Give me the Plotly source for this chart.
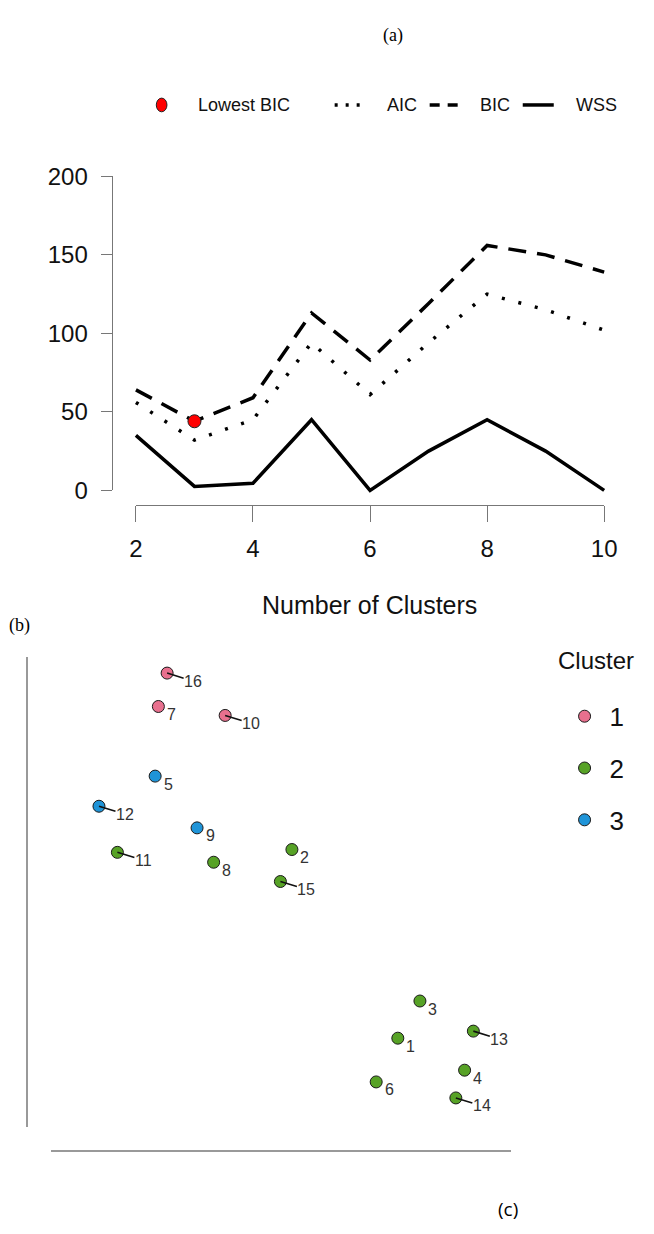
import plotly.graph_objects as go

# ---------------- data ----------------
# Panel (a): model selection criteria vs number of clusters
n_clusters = [2, 3, 4, 5, 6, 7, 8, 9, 10]
aic = [56, 32, 45, 94, 61, 94, 125, 115, 102]
bic = [64, 44, 59, 113, 83, 119, 156, 150, 139]
wss = [35, 2.5, 4.5, 45, 0, 25, 45, 25, 0]
lowest_bic_k = 3
lowest_bic_val = 44
x_ticks = [2, 4, 6, 8, 10]
y_ticks = [0, 50, 100, 150, 200]

# Panel (b): cluster map (two-dimensional embedding, arbitrary units)
point_ids = [16, 7, 10, 5, 12, 9, 11, 8, 2, 15, 3, 1, 13, 4, 6, 14]
dim1 = [25.3, 23.4, 37.9, 22.7, 10.5, 31.8, 14.5, 35.4, 52.4, 49.9, 80.2, 75.4, 91.8, 89.9, 70.7, 88.0]
dim2 = [96.5, 89.4, 87.5, 74.6, 68.2, 63.6, 58.4, 56.3, 59.0, 52.2, 26.8, 18.9, 20.4, 12.1, 9.6, 6.2]
cluster = [1, 1, 1, 3, 3, 3, 2, 2, 2, 2, 2, 2, 2, 2, 2, 2]
cluster_names = ["1", "2", "3"]
leader_ids = [16, 10, 12, 11, 15, 13, 14]  # labels drawn with a connecting segment

# ---------------- styling / layout ----------------
W, H = 654, 1234
SANS = "Liberation Sans, Arial, sans-serif"
SERIF = "Liberation Serif, Times New Roman, serif"
cluster_colors = {1: "#E8708E", 2: "#57A226", 3: "#1F94D8"}


def fx(px):
    return px / W


def fy(py):
    return 1 - py / H


# panel (a) pixel geometry
A_X2, A_X10 = 133, 616     # x=2 and x=10
A_Y0, A_Y200 = 487, 166    # y=0 and y=200
A_XLINE = 502              # x axis line
A_YLINE = 108              # y axis line
xr = (1.75, 10.25)
yr = (-12, 212)
ppx = (A_X10 - A_X2) / 8.0
ppy = (A_Y0 - A_Y200) / 200.0
dx0 = A_X2 - (2 - xr[0]) * ppx
dx1 = A_X10 + (xr[1] - 10) * ppx
dy0 = A_Y0 + (0 - yr[0]) * ppy
dy1 = A_Y200 - (yr[1] - 200) * ppy

fig = go.Figure()

# decoration axes of panel (a) (empty trace to realise the subplot)
fig.add_trace(go.Scatter(x=[None], y=[None], xaxis="x", yaxis="y",
                         showlegend=False, hoverinfo="skip"))

# data traces of panel (a)
fig.add_trace(go.Scatter(x=n_clusters, y=aic, mode="lines", name="AIC",
                         line=dict(color="black", width=3.5, dash="3px,14px"),
                         xaxis="x3", yaxis="y3", showlegend=False))
fig.add_trace(go.Scatter(x=n_clusters, y=bic, mode="lines", name="BIC",
                         line=dict(color="black", width=3.5, dash="18px,11px"),
                         xaxis="x3", yaxis="y3", showlegend=False))
fig.add_trace(go.Scatter(x=n_clusters, y=wss, mode="lines", name="WSS",
                         line=dict(color="black", width=3.5),
                         xaxis="x3", yaxis="y3", showlegend=False))
fig.add_trace(go.Scatter(x=[lowest_bic_k], y=[lowest_bic_val], mode="markers",
                         name="Lowest BIC",
                         marker=dict(color="#FF0000", size=13,
                                     line=dict(color="#222", width=1)),
                         xaxis="x3", yaxis="y3", showlegend=False))

# panel (b) scatter, one trace per cluster
for c in [1, 2, 3]:
    xs = [d for d, k in zip(dim1, cluster) if k == c]
    ys = [d for d, k in zip(dim2, cluster) if k == c]
    fig.add_trace(go.Scatter(
        x=xs, y=ys, mode="markers", name=cluster_names[c - 1],
        legendgroup=str(c),
        marker=dict(color=cluster_colors[c], size=12,
                    line=dict(color="#1a1a1a", width=1)),
        xaxis="x2", yaxis="y2"))

annotations = []
# point labels
for pid, xv, yv in zip(point_ids, dim1, dim2):
    if pid in leader_ids:
        annotations.append(dict(
            x=xv, y=yv, xref="x2", yref="y2", text=str(pid),
            showarrow=True, arrowhead=0, arrowwidth=1.6, arrowcolor="#111",
            ax=26, ay=8, standoff=0, borderpad=0,
            font=dict(family=SANS, size=16, color="#333")))
    else:
        annotations.append(dict(
            x=xv, y=yv, xref="x2", yref="y2", text=str(pid),
            showarrow=False, xshift=13, yshift=-8,
            font=dict(family=SANS, size=16, color="#333")))

# panel labels, axis title, legend title of (b)
annotations += [
    dict(x=fx(398), y=fy(22), xref="paper", yref="paper", text="(a)",
         showarrow=False, xanchor="center", yanchor="middle",
         font=dict(family=SERIF, size=18, color="black")),
    dict(x=fx(0), y=fy(625), xref="paper", yref="paper", text="(b)",
         showarrow=False, xanchor="left", yanchor="middle",
         font=dict(family=SERIF, size=18, color="black")),
    dict(x=fx(517), y=fy(1222), xref="paper", yref="paper", text="(c)",
         showarrow=False, xanchor="center", yanchor="middle",
         font=dict(family="Open Sans, Liberation Sans", size=19, color="black")),
    dict(x=fx(374), y=fy(604), xref="paper", yref="paper",
         text="Number of Clusters", showarrow=False, xanchor="center",
         yanchor="middle", font=dict(family=SANS, size=25, color="#111")),
    dict(x=fx(566), y=fy(661), xref="paper", yref="paper",
         text="Cluster", showarrow=False, xanchor="left",
         yanchor="middle", font=dict(family=SANS, size=24, color="#111")),
]

# manual legend of panel (a)
LEG_Y = 93
leg_font = dict(family=SANS, size=18, color="#111")
for txt, xleft in [("Lowest BIC", 195), ("AIC", 390), ("BIC", 486), ("WSS", 585)]:
    annotations.append(dict(x=fx(xleft), y=fy(LEG_Y), xref="paper", yref="paper",
                            text=txt, showarrow=False, xanchor="left",
                            yanchor="middle", font=leg_font))

shapes = [
    dict(type="circle", xref="paper", yref="paper",
         x0=fx(154), x1=fx(165), y0=fy(100), y1=fy(86),
         fillcolor="#FF0000", line=dict(color="#222", width=1)),
    dict(type="line", xref="paper", yref="paper", x0=fx(338), x1=fx(370),
         y0=fy(LEG_Y), y1=fy(LEG_Y), line=dict(color="black", width=3.5, dash="3px,8px")),
    dict(type="line", xref="paper", yref="paper", x0=fx(436), x1=fx(466),
         y0=fy(LEG_Y), y1=fy(LEG_Y), line=dict(color="black", width=3.5, dash="10px,8px")),
    dict(type="line", xref="paper", yref="paper", x0=fx(532), x1=fx(564),
         y0=fy(LEG_Y), y1=fy(LEG_Y), line=dict(color="black", width=3.5)),
]

tick_font = dict(family=SANS, size=24, color="#111")
AXC = "#777"

fig.update_layout(
    width=W, height=H,
    margin=dict(l=0, r=0, t=0, b=0),
    paper_bgcolor="white", plot_bgcolor="rgba(0,0,0,0)",
    font=dict(family=SANS, color="#111"),
    # panel (a) visible axes
    xaxis=dict(domain=[fx(A_X2), fx(A_X10)], range=[2, 10], anchor="free",
               position=fy(A_XLINE), tickmode="array", tickvals=x_ticks,
               ticks="outside", ticklen=16, tickwidth=1.3, tickcolor=AXC,
               showline=True, linecolor=AXC, linewidth=1.3,
               showgrid=False, zeroline=False, tickfont=tick_font,
               ticklabelstandoff=6),
    yaxis=dict(domain=[fy(A_Y0), fy(A_Y200)], range=[0, 200], anchor="free",
               position=fx(A_YLINE), tickmode="array", tickvals=y_ticks,
               ticks="outside", ticklen=11, tickwidth=1.3, tickcolor=AXC,
               showline=True, linecolor=AXC, linewidth=1.3,
               showgrid=False, zeroline=False, tickfont=tick_font,
               ticklabelstandoff=8),
    # panel (a) data axes (hidden)
    xaxis3=dict(domain=[fx(dx0), fx(dx1)], range=list(xr), anchor="y3",
                visible=False),
    yaxis3=dict(domain=[fy(dy0), fy(dy1)], range=list(yr), anchor="x3",
                visible=False),
    # panel (b) axes
    xaxis2=dict(domain=[fx(45), fx(520)], range=[0, 100], anchor="free",
                position=fy(1162), showline=True, linecolor="#999",
                linewidth=1.5, showticklabels=False, ticks="",
                showgrid=False, zeroline=False),
    yaxis2=dict(domain=[fy(1138), fy(657)], range=[0, 100], anchor="free",
                position=fx(21), showline=True, linecolor="#999",
                linewidth=1.5, showticklabels=False, ticks="",
                showgrid=False, zeroline=False),
    legend=dict(x=fx(570), y=fy(694), xanchor="left", yanchor="top",
                font=dict(family=SANS, size=26, color="#111"),
                tracegroupgap=15, itemwidth=40, bgcolor="rgba(0,0,0,0)"),
    annotations=annotations,
    shapes=shapes,
)

fig.write_html("out.html")
